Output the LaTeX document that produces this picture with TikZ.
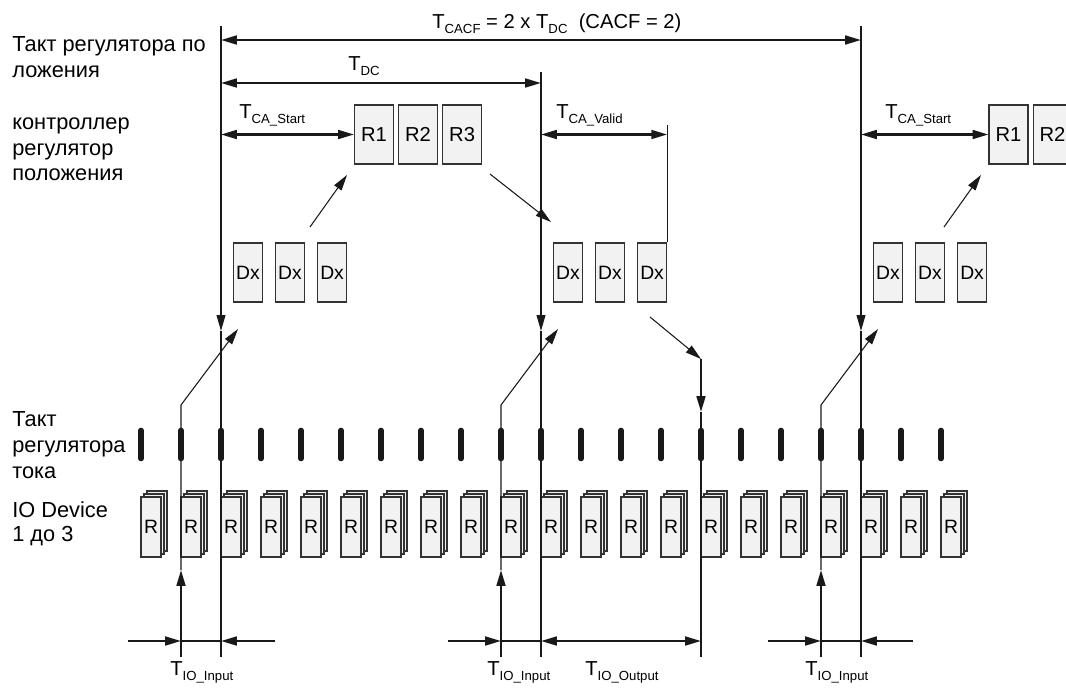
\documentclass[tikz,border=0pt]{standalone}
\usepackage{fontspec}
\setmainfont{Liberation Sans}
\usetikzlibrary{arrows.meta, positioning, calc}

\newcommand{\Tlbl}[1]{T\raisebox{-0.5ex}{\fontsize{7.5}{8}\selectfont #1}}

\begin{document}
\begin{tikzpicture}[x=0.02cm, y=-0.02cm, font=\fontsize{11.5}{13}\selectfont,
    vline/.style={line width=0.6pt, black!90},
    dimline/.style={line width=1.3pt, black!90},
    arrowto/.style={-{Triangle[length=9pt,width=5pt]}},
    twoway/.style={{Triangle[length=9pt,width=5pt]}-{Triangle[length=9pt,width=5pt]}},
    clockbar/.style={line width=3.2pt, line cap=round, black!90},
    regbox/.style={draw=black!80, fill=black!5, line width=0.6pt, inner sep=0pt,
        minimum width=0.78cm, minimum height=1.18cm, font=\fontsize{11.5}{12}\selectfont},
    dxbox/.style={regbox, minimum width=0.58cm, font=\fontsize{11}{12}\selectfont},
    iobox/.style={regbox, minimum width=0.4cm, minimum height=1.2cm, font=\fontsize{11}{12}\selectfont},
    lbl/.style={anchor=base west, inner sep=0pt, font=\fontsize{12.4}{14}\selectfont},
    dimlbl/.style={anchor=base west, inner sep=0pt}]
\useasboundingbox (0,0) rectangle (1066,687);
\clip (0,0) rectangle (1066,687);

% captions on the left
\node[lbl] (pos1) at (12,51) {Такт регулятора по};
\node[lbl] (pos2) at (12,77) {ложения};
\node[lbl] (ctl1) at (12,129) {контроллер};
\node[lbl] (ctl2) at (12,155) {регулятор};
\node[lbl] (ctl3) at (12,180) {положения};
\node[lbl] (cur1) at (12,426) {Такт};
\node[lbl] (cur2) at (12,452) {регулятора};
\node[lbl] (cur3) at (12,478) {тока};
\node[lbl] (dev1) at (12,517) {IO Device};
\node[lbl] (dev2) at (12,541) {1 до 3};

% current controller clock
\foreach \k in {0,...,20}
    \draw[clockbar] ({141+40*\k},430.5) -- ({141+40*\k},458.5);

% IO devices
\foreach \k in {0,...,20} {
    \node[iobox] at ({157+40*\k},521) {};
    \node[iobox] at ({154+40*\k},524) {};
    \node[iobox] (io\k) at ({151+40*\k},527) {R};
}

% position controller
\node[regbox] (r1) at (374,134.5) {R1};
\node[regbox, right=0.08cm of r1] (r2) {R2};
\node[regbox, right=0.08cm of r2] (r3) {R3};
\node[regbox] (q1) at (1008.5,134.5) {R1};
\node[regbox, right=0.08cm of q1] (q2) {R2};

\foreach \g/\x in {1/248,2/568,3/888} {
    \node[dxbox] (dx\g a) at (\x,272.5) {Dx};
    \node[dxbox, right=0.24cm of dx\g a] (dx\g b) {Dx};
    \node[dxbox, right=0.24cm of dx\g b] (dx\g c) {Dx};
}

% time lines
\coordinate (a1) at (221,26);  \coordinate (a2) at (221,331); \coordinate (a3) at (221,657);
\coordinate (b1) at (541,72);  \coordinate (b2) at (541,331); \coordinate (b3) at (541,657);
\coordinate (c1) at (861,26);  \coordinate (c2) at (861,331); \coordinate (c3) at (861,657);
\foreach \t in {a,b,c} {
    \draw[vline, arrowto] (\t1) -- (\t2);
    \draw[vline] (\t2) -- (\t3);
}

% dimensions
\draw[dimline, twoway] (a1 |- 0,40) -- (c1 |- 0,40);
\draw[dimline, twoway] (a1 |- 0,83) -- (b1 |- 0,83);
\draw[dimline, twoway] (a1 |- r1.west) -- (r1.west);
\draw[dimline, twoway] (c1 |- q1.west) -- (q1.west);
\draw[dimline, twoway] (b1 |- r1.west) -- (dx2c.east |- r1.west);
\draw[vline] (dx2c.north east) -- ++(0,-117);

\node[dimlbl] (tcacf) at (432,28) {\Tlbl{CACF} = 2 x \Tlbl{DC}\ \ (CACF = 2)};
\node[dimlbl] (tdc) at (348,70) {\Tlbl{DC}};
\node[dimlbl] (tstart1) at (239,118) {\Tlbl{CA\_Start}};
\node[dimlbl] (tvalid) at (556,118) {\Tlbl{CA\_Valid}};
\node[dimlbl] (tstart2) at (885,118) {\Tlbl{CA\_Start}};

% data flow
\draw[vline, arrowto] (310,227) -- (347,175);
\draw[vline, arrowto] (944,227) -- (981,175);
\draw[vline, arrowto] (490,174) -- (551,222);
\draw[vline, arrowto] (650,317) -- (701,359);
\draw[dimline, arrowto] (701,359) -- (701,412);
\draw[vline] (701,412) -- (701,657);

% IO input
\foreach \x in {181,501,821} {
    \draw[dimline, arrowto] (\x,657) -- (\x,570);
    \draw[vline, arrowto] (\x,570) -- (\x,405) -- ({\x+57},329);
    \draw[dimline, arrowto] ({\x-53},641) -- (\x,641);
    \draw[vline] (\x,641) -- ({\x+40},641);
}
\draw[dimline, arrowto] (275,641) -- (a3 |- 0,641);
\draw[dimline, arrowto] (913,641) -- (c3 |- 0,641);
\draw[dimline, twoway] (b3 |- 0,641) -- (701,641);

\node[dimlbl] (tin1) at (170,675) {\Tlbl{IO\_Input}};
\node[dimlbl] (tin2) at (487,675) {\Tlbl{IO\_Input}};
\node[dimlbl] (tout) at (585,675) {\Tlbl{IO\_Output}};
\node[dimlbl] (tin3) at (805,675) {\Tlbl{IO\_Input}};
\end{tikzpicture}
\end{document}
